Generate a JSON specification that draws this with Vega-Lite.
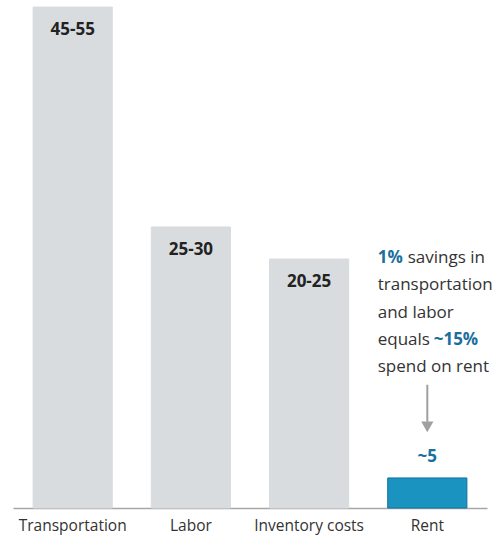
{
  "$schema": "https://vega.github.io/schema/vega-lite/v6.json",
  "width": 474,
  "height": 501,
  "autosize": {"type": "none"},
  "padding": {"left": 13, "top": 7, "right": 11, "bottom": 28},
  "background": "white",
  "config": {
    "view": {"stroke": null},
    "font": "Open Sans",
    "text": {"font": "Open Sans"}
  },
  "data": {
    "values": [
      {"cat": "Transportation", "value": 50, "label": "45-55", "kind": "other"},
      {"cat": "Labor", "value": 28.05, "label": "25-30", "kind": "other"},
      {"cat": "Inventory costs", "value": 24.85, "label": "20-25", "kind": "other"},
      {"cat": "Rent", "value": 3, "label": "~5", "kind": "rent"}
    ]
  },
  "encoding": {
    "x": {
      "field": "cat",
      "type": "nominal",
      "sort": null,
      "scale": {"paddingInner": 0.33, "paddingOuter": 0.17},
      "axis": {
        "title": null,
        "labelAngle": 0,
        "labelFontSize": 15.5,
        "labelColor": "#333333",
        "labelFont": "Open Sans",
        "labelPadding": 10,
        "ticks": false,
        "domainColor": "#a6a6a6",
        "domainWidth": 1.5
      }
    },
    "y": {
      "field": "value",
      "type": "quantitative",
      "scale": {"domain": [0, 50], "nice": false},
      "axis": null
    }
  },
  "layer": [
    {
      "mark": {"type": "bar", "strokeWidth": 1},
      "encoding": {
        "color": {
          "field": "kind",
          "type": "nominal",
          "scale": {"domain": ["other", "rent"], "range": ["#d9dcdf", "#1a93c0"]},
          "legend": null
        },
        "stroke": {
          "field": "kind",
          "type": "nominal",
          "scale": {"domain": ["other", "rent"], "range": ["#d9dcdf", "#11739b"]},
          "legend": null
        }
      }
    },
    {
      "transform": [{"filter": "datum.kind === 'other'"}],
      "mark": {"type": "text", "baseline": "middle", "dy": 23, "fontSize": 17, "fontWeight": "bold", "color": "#222222"},
      "encoding": {"text": {"field": "label"}}
    },
    {
      "transform": [{"filter": "datum.kind === 'rent'"}],
      "mark": {"type": "text", "baseline": "middle", "dy": -21, "fontSize": 17, "fontWeight": "bold", "color": "#1b6f9e"},
      "encoding": {"text": {"field": "label"}}
    },
    {
      "data": {"values": [{"cat": "Rent", "from": 12.3, "to": 8.6}]},
      "mark": {"type": "rule", "color": "#a0a0a0", "strokeWidth": 2},
      "encoding": {
        "x": {"field": "cat", "type": "nominal"},
        "y": {"field": "from", "type": "quantitative"},
        "y2": {"field": "to"}
      }
    },
    {
      "data": {"values": [{"cat": "Rent", "tip": 8.1}]},
      "mark": {"type": "point", "shape": "triangle-down", "filled": true, "color": "#a0a0a0", "opacity": 1, "size": 150},
      "encoding": {
        "x": {"field": "cat", "type": "nominal"},
        "y": {"field": "tip", "type": "quantitative"}
      }
    },
    {
      "data": {"values": [{"cat": "Rent", "at": 24.45, "note": ["", "transportation", "and labor", "equals", "spend on rent"]}]},
      "mark": {"type": "text", "align": "left", "baseline": "alphabetic", "dx": -10, "fontSize": 17, "lineHeight": 27.3, "color": "#333333"},
      "encoding": {
        "x": {"field": "cat", "type": "nominal", "bandPosition": 0},
        "y": {"field": "at", "type": "quantitative"},
        "text": {"field": "note"}
      }
    },
    {
      "data": {"values": [{"cat": "Rent", "at": 24.45, "note": "savings in"}]},
      "mark": {"type": "text", "align": "left", "baseline": "alphabetic", "dx": 20, "fontSize": 17, "color": "#333333"},
      "encoding": {
        "x": {"field": "cat", "type": "nominal", "bandPosition": 0},
        "y": {"field": "at", "type": "quantitative"},
        "text": {"field": "note"}
      }
    },
    {
      "data": {"values": [{"cat": "Rent", "at": 24.45, "note": "1%"}]},
      "mark": {"type": "text", "align": "left", "baseline": "alphabetic", "dx": -10, "fontSize": 17, "fontWeight": "bold", "color": "#1b6f9e"},
      "encoding": {
        "x": {"field": "cat", "type": "nominal", "bandPosition": 0},
        "y": {"field": "at", "type": "quantitative"},
        "text": {"field": "note"}
      }
    },
    {
      "data": {"values": [{"cat": "Rent", "at": 24.45, "note": "~15%"}]},
      "mark": {"type": "text", "align": "left", "baseline": "alphabetic", "dx": 46, "dy": 81.9, "fontSize": 17, "fontWeight": "bold", "color": "#1b6f9e"},
      "encoding": {
        "x": {"field": "cat", "type": "nominal", "bandPosition": 0},
        "y": {"field": "at", "type": "quantitative"},
        "text": {"field": "note"}
      }
    }
  ]
}
